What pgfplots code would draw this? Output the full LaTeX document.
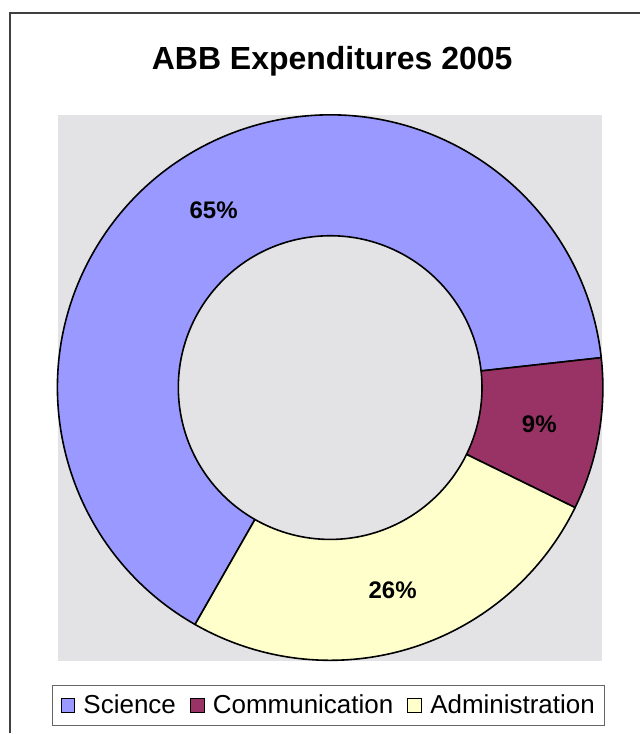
\documentclass[border=0pt]{standalone}
\usepackage{pgfplots}
\pgfplotsset{compat=1.18}
\usepackage{pgfplotstable}
\usepackage{fontspec}
\setmainfont{Liberation Sans}
\definecolor{sci}{HTML}{9999FF}
\definecolor{com}{HTML}{993366}
\definecolor{adm}{HTML}{FFFFCC}
\definecolor{marble}{HTML}{E3E3E6}
\definecolor{framec}{HTML}{404040}
\pgfplotstableread{
label value
Science 65
Communication 9
Administration 26
}\expdata

\newcommand\sector[3]{%
  \filldraw[fill=#1, draw=black, line width=1.6pt, line join=round]
    (axis cs:{\cx+\Rout*cos(#2)},{\cy+\Rout*sin(#2)})
    arc[start angle=#2, end angle=#3, radius=\Rout pt]
    -- (axis cs:{\cx+\Rin*cos(#3)},{\cy+\Rin*sin(#3)})
    arc[start angle=#3, end angle=#2, radius=\Rin pt] -- cycle;}

\begin{document}
\begin{tikzpicture}
\pgfplotstablegetelem{0}{value}\of\expdata \edef\vA{\pgfplotsretval}
\pgfplotstablegetelem{1}{value}\of\expdata \edef\vB{\pgfplotsretval}
\pgfplotstablegetelem{2}{value}\of\expdata \edef\vC{\pgfplotsretval}
\pgfmathsetmacro\aS{240.3}
\pgfmathsetmacro\aA{\aS-3.6*\vA}
\pgfmathsetmacro\aB{\aA-3.6*\vB}
\pgfmathsetmacro\aC{\aB-3.6*\vC}
\pgfmathsetmacro\mA{(\aS+\aA)/2}
\pgfmathsetmacro\mB{(\aA+\aB)/2}
\pgfmathsetmacro\mC{(\aB+\aC)/2}
\def\cx{330.5}\def\cy{346}\def\Rout{273}\def\Rin{152}\def\Rlab{212.5}
\begin{axis}[hide axis, scale only axis, width=641pt, height=734pt,
  xmin=0, xmax=641, ymin=0, ymax=734, at={(0,0)}, anchor=south west, clip=false,
  legend columns=-1,
  legend style={at={(axis cs:329,28)}, anchor=center, draw=black!60, line width=1pt,
    font=\fontsize{26}{31}\selectfont, inner xsep=8pt, inner ysep=8pt,
    /tikz/every odd column/.append style={column sep=6pt},
    /tikz/every even column/.append style={column sep=12pt}},
  legend image code/.code={\draw[#1, draw=black, line width=1pt] (0pt,-7pt) rectangle (14pt,7pt);},
]
\path (axis cs:0,0) rectangle (axis cs:641,734);
\fill[marble] (axis cs:58,72) rectangle (axis cs:603,619);
\draw[line width=1.5pt, draw=framec] (axis cs:10,0) -- (axis cs:10,721) -- (axis cs:641,721);
\node[anchor=base, font=\bfseries\fontsize{32}{38}\selectfont] at (axis cs:332.5,664) {ABB Expenditures 2005};
\sector{sci}{\aS}{\aA}
\sector{com}{\aA}{\aB}
\sector{adm}{\aB}{\aC}
\node[font=\bfseries\fontsize{24}{28}\selectfont] at (axis cs:{\cx+\Rlab*cos(\mA)},{\cy+\Rlab*sin(\mA)}) {\vA\%};
\node[font=\bfseries\fontsize{24}{28}\selectfont] at (axis cs:{\cx+\Rlab*cos(\mB)},{\cy+\Rlab*sin(\mB)}) {\vB\%};
\node[font=\bfseries\fontsize{24}{28}\selectfont] at (axis cs:{\cx+\Rlab*cos(\mC)},{\cy+\Rlab*sin(\mC)}) {\vC\%};
\addlegendimage{fill=sci}
\addlegendentry{Science}
\addlegendimage{fill=com}
\addlegendentry{Communication}
\addlegendimage{fill=adm}
\addlegendentry{Administration}
\end{axis}
\end{tikzpicture}
\end{document}
